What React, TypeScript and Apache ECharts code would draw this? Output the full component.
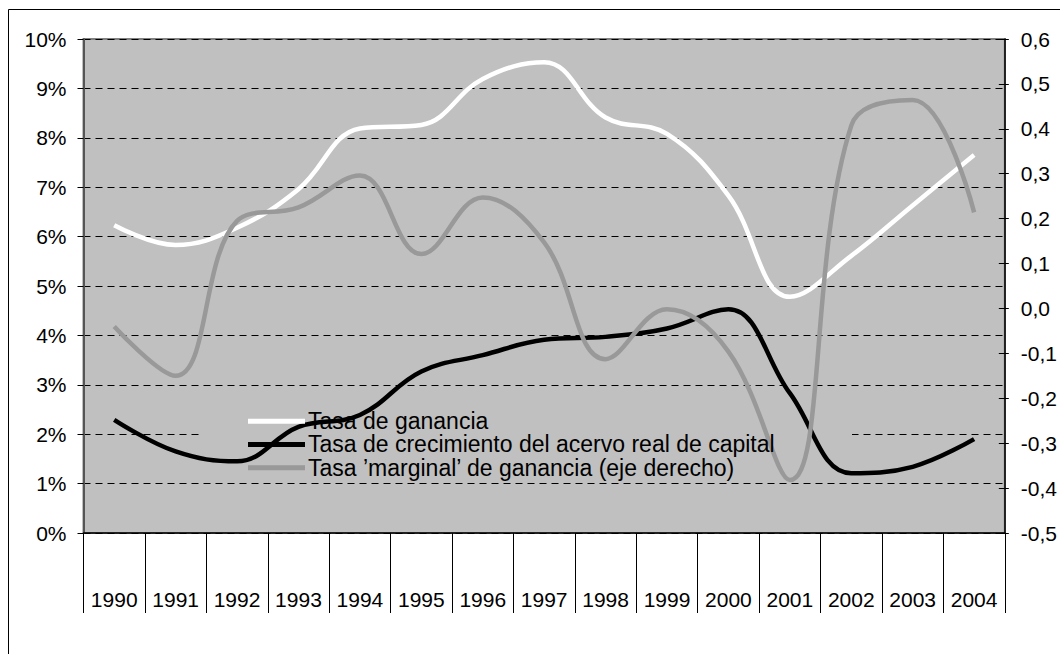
import React, { useEffect, useRef } from "react";
import * as echarts from "echarts";

const years = ["1990","1991","1992","1993","1994","1995","1996","1997","1998","1999","2000","2001","2002","2003","2004"];
const tasaGanancia = [6.23, 5.83, 6.18, 6.96, 8.19, 8.26, 9.19, 9.53, 8.41, 8.08, 6.83, 4.78, 5.61, 6.63, 7.65];
const tasaCrecimiento = [2.29, 1.65, 1.45, 2.15, 2.39, 3.27, 3.60, 3.91, 3.97, 4.14, 4.53, 2.83, 1.21, 1.34, 1.90];
const tasaMarginal = [-0.04, -0.15, 0.195, 0.225, 0.296, 0.121, 0.247, 0.147, -0.113, -0.002, -0.096, -0.382, 0.407, 0.464, 0.214];

const names = [
  "Tasa de ganancia",
  "Tasa de crecimiento del acervo real de capital",
  "Tasa \u2019marginal\u2019 de ganancia (eje derecho)",
];

const FONT = "'Liberation Sans', Arial, sans-serif";

export default function App() {
  const ref = useRef<HTMLDivElement>(null);
  useEffect(() => {
    if (!ref.current) return;
    const chart = echarts.init(ref.current, undefined, { renderer: "svg" });
    const fmtRight = (v: number) => {
      const x = Math.abs(v) < 1e-9 ? 0 : v;
      return x.toFixed(1).replace(".", ",");
    };
    chart.setOption({
      animation: false,
      backgroundColor: "#fff",
      textStyle: { fontFamily: FONT },
      grid: {
        left: 83.5,
        right: 54,
        top: 39,
        bottom: 121,
        show: true,
        backgroundColor: "#c0c0c0",
        borderColor: "#808080",
        borderWidth: 2,
      },
      graphic: [
        {
          type: "rect",
          z: 1,
          shape: { x: 200, y: 398, width: 652, height: 82 },
          style: { fill: "#c0c0c0", stroke: "none" },
          silent: true,
        },
        {
          type: "rect",
          z: 10,
          shape: { x: 8.5, y: 9.5, width: 1200, height: 800 },
          style: { fill: "none", stroke: "#000", lineWidth: 1 },
          silent: true,
        },
      ],
      legend: {
        orient: "vertical",
        left: 248,
        top: 409.5,
        padding: 0,
        itemGap: 0,
        itemWidth: 57,
        itemHeight: 5,
        icon: "rect",
        data: names,
        textStyle: { fontFamily: FONT, fontSize: 23, color: "#000", lineHeight: 23.3, padding: [0, 0, 0, -2] },
      },
      xAxis: {
        type: "category",
        data: years,
        boundaryGap: true,
        axisLine: { show: true, lineStyle: { color: "#000", width: 1.5 } },
        axisTick: { show: true, length: 80, interval: 0, lineStyle: { color: "#000", width: 1 } },
        axisLabel: { interval: 0, margin: 56, fontSize: 21, color: "#000", fontFamily: FONT },
        splitLine: { show: false },
      },
      yAxis: [
        {
          type: "value",
          min: 0,
          max: 10,
          interval: 1,
          position: "left",
          axisLine: { show: true, lineStyle: { color: "#555", width: 2 } },
          axisTick: { show: true, length: 6, lineStyle: { color: "#000" } },
          axisLabel: { margin: 17, fontSize: 21, color: "#000", fontFamily: FONT, formatter: (v: number) => v + "%" },
          splitLine: { show: true, lineStyle: { color: "#000", width: 1, type: [7, 5] } },
        },
        {
          type: "value",
          min: -0.5,
          max: 0.6,
          interval: 0.1,
          position: "right",
          axisLine: { show: true, lineStyle: { color: "#000", width: 1.5 } },
          axisTick: { show: true, length: 4, lineStyle: { color: "#000" } },
          axisLabel: { margin: 16, fontSize: 21, color: "#000", fontFamily: FONT, formatter: fmtRight },
          splitLine: { show: false },
        },
        {
          type: "value",
          min: -0.5,
          max: 0.6,
          interval: 0.1,
          position: "right",
          axisLine: { show: false },
          axisTick: { show: true, inside: true, length: 6, lineStyle: { color: "#000" } },
          axisLabel: { show: false },
          splitLine: { show: false },
        },
      ],
      series: [
        {
          name: names[0],
          type: "line",
          yAxisIndex: 0,
          data: tasaGanancia,
          smooth: 0.4,
          showSymbol: false,
          lineStyle: { color: "#ffffff", width: 4.5 },
          itemStyle: { color: "#ffffff" },
        },
        {
          name: names[1],
          type: "line",
          yAxisIndex: 0,
          data: tasaCrecimiento,
          smooth: 0.4,
          showSymbol: false,
          lineStyle: { color: "#000000", width: 4.5 },
          itemStyle: { color: "#000000" },
        },
        {
          name: names[2],
          type: "line",
          yAxisIndex: 1,
          data: tasaMarginal,
          smooth: 0.4,
          showSymbol: false,
          lineStyle: { color: "#999999", width: 4.5 },
          itemStyle: { color: "#999999" },
        },
      ],
    });
    return () => chart.dispose();
  }, []);
  return (
    <div
      ref={ref}
      style={{ position: "fixed", left: 0, top: 0, width: 1060, height: 654, background: "#fff" }}
    />
  );
}
